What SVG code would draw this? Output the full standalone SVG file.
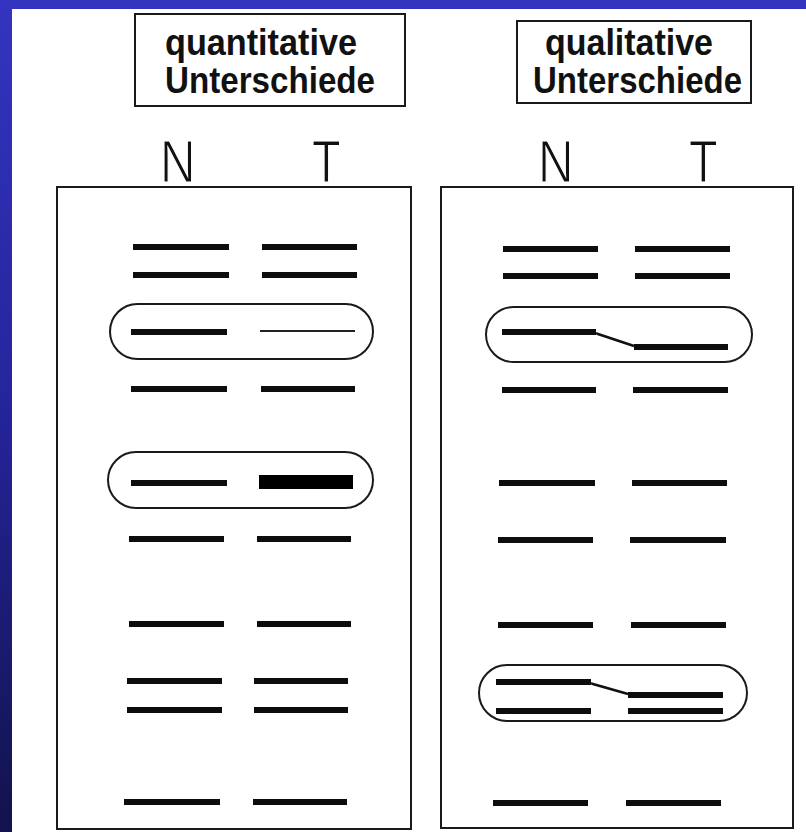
<svg xmlns="http://www.w3.org/2000/svg" width="806" height="832" viewBox="0 0 806 832">
  <defs>
    <linearGradient id="bg" x1="0" y1="0" x2="0" y2="1">
      <stop offset="0" stop-color="#3434c0"/>
      <stop offset="0.5" stop-color="#24249a"/>
      <stop offset="1" stop-color="#12124c"/>
    </linearGradient>
  </defs>
  <style>
    .frame { fill: #ffffff; stroke: #1a1a1a; stroke-width: 2; }
    .oval { fill: none; stroke: #1a1a1a; stroke-width: 2; }
    .band { stroke: #0d0d0d; stroke-width: 6; stroke-linecap: butt; fill: none; }
    .thin { stroke: #222; stroke-width: 2; fill: none; }
    .thick { stroke: #000; stroke-width: 14; fill: none; }
    .shift { stroke: #111; stroke-width: 2.5; fill: none; }
    .title { font-family: "Liberation Sans", Arial, sans-serif; font-weight: bold; font-size: 36px; fill: #111; }
    .lane { font-family: "Liberation Sans", Arial, sans-serif; font-weight: normal; font-size: 60px; fill: #111; stroke: #ffffff; stroke-width: 1.2; }
  </style>

  <rect x="0" y="0" width="806" height="832" fill="url(#bg)"/>
  <rect x="12" y="9" width="794" height="823" fill="#ffffff"/>

  <g id="title-quantitativ">
    <rect class="frame" x="135" y="14" width="270" height="92"/>
    <text class="title" x="165" y="55" textLength="192" lengthAdjust="spacingAndGlyphs">quantitative</text>
    <text class="title" x="165" y="93" textLength="210" lengthAdjust="spacingAndGlyphs">Unterschiede</text>
  </g>

  <g id="title-qualitativ">
    <rect class="frame" x="517" y="21" width="234" height="82"/>
    <text class="title" x="545" y="55" textLength="168" lengthAdjust="spacingAndGlyphs">qualitative</text>
    <text class="title" x="533" y="93" textLength="209" lengthAdjust="spacingAndGlyphs">Unterschiede</text>
  </g>

  <g id="lane-labels">
    <text class="lane" transform="translate(160,182) scale(0.82,1)">N</text>
    <text class="lane" transform="translate(312,182) scale(0.78,1)">T</text>
    <text class="lane" transform="translate(538,182) scale(0.82,1)">N</text>
    <text class="lane" transform="translate(689,182) scale(0.78,1)">T</text>
  </g>

  <g id="panel-quantitativ">
    <rect class="frame" x="57" y="187" width="354" height="642"/>
    <rect class="oval" x="110" y="304" width="263" height="55" rx="27.5"/>
    <rect class="oval" x="108" y="452" width="265" height="56" rx="28"/>
    <line class="band" x1="133" y1="247" x2="229" y2="247"/>
    <line class="band" x1="262" y1="247" x2="357" y2="247"/>
    <line class="band" x1="133" y1="275" x2="229" y2="275"/>
    <line class="band" x1="262" y1="275" x2="357" y2="275"/>
    <line class="band" x1="131" y1="332" x2="227" y2="332"/>
    <line class="thin" x1="260" y1="331" x2="355" y2="331"/>
    <line class="band" x1="131" y1="389" x2="227" y2="389"/>
    <line class="band" x1="261" y1="389" x2="355" y2="389"/>
    <line class="band" x1="131" y1="483" x2="227" y2="483"/>
    <line class="thick" x1="259" y1="482" x2="353" y2="482"/>
    <line class="band" x1="129" y1="539" x2="224" y2="539"/>
    <line class="band" x1="257" y1="539" x2="351" y2="539"/>
    <line class="band" x1="129" y1="624" x2="224" y2="624"/>
    <line class="band" x1="257" y1="624" x2="351" y2="624"/>
    <line class="band" x1="127" y1="681" x2="222" y2="681"/>
    <line class="band" x1="254" y1="681" x2="348" y2="681"/>
    <line class="band" x1="127" y1="710" x2="222" y2="710"/>
    <line class="band" x1="254" y1="710" x2="348" y2="710"/>
    <line class="band" x1="124" y1="802" x2="220" y2="802"/>
    <line class="band" x1="253" y1="802" x2="347" y2="802"/>
  </g>

  <g id="panel-qualitativ">
    <rect class="frame" x="441" y="187" width="352" height="641"/>
    <rect class="oval" x="486" y="307" width="266" height="55" rx="27.5"/>
    <rect class="oval" x="479" y="665" width="268" height="56" rx="28"/>
    <line class="band" x1="503" y1="249" x2="598" y2="249"/>
    <line class="band" x1="635" y1="249" x2="730" y2="249"/>
    <line class="band" x1="503" y1="276" x2="598" y2="276"/>
    <line class="band" x1="635" y1="276" x2="730" y2="276"/>
    <line class="band" x1="502" y1="332" x2="596" y2="332"/>
    <line class="band" x1="634" y1="347" x2="728" y2="347"/>
    <line class="band" x1="502" y1="390" x2="596" y2="390"/>
    <line class="band" x1="633" y1="390" x2="728" y2="390"/>
    <line class="band" x1="499" y1="483" x2="595" y2="483"/>
    <line class="band" x1="632" y1="483" x2="727" y2="483"/>
    <line class="band" x1="498" y1="540" x2="593" y2="540"/>
    <line class="band" x1="630" y1="540" x2="726" y2="540"/>
    <line class="band" x1="498" y1="625" x2="593" y2="625"/>
    <line class="band" x1="631" y1="625" x2="726" y2="625"/>
    <line class="band" x1="496" y1="682" x2="591" y2="682"/>
    <line class="band" x1="628" y1="695" x2="723" y2="695"/>
    <line class="band" x1="496" y1="711" x2="591" y2="711"/>
    <line class="band" x1="628" y1="711" x2="723" y2="711"/>
    <line class="band" x1="493" y1="803" x2="588" y2="803"/>
    <line class="band" x1="626" y1="803" x2="721" y2="803"/>
  </g>

  <g id="connectors">
    <polyline class="shift" points="596,333 598,334 634,346"/>
    <polyline class="shift" points="591,683 593,684 628,694"/>
  </g>
</svg>
